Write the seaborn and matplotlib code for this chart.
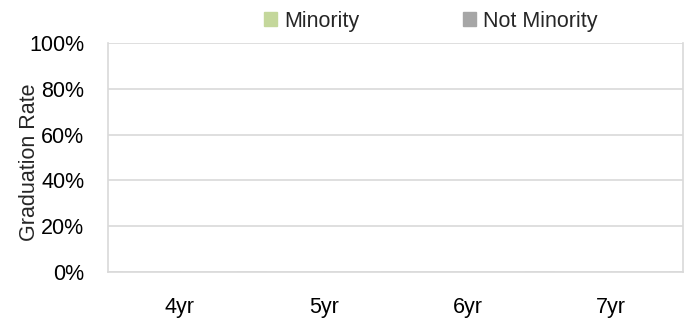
import matplotlib
matplotlib.use("Agg")
import matplotlib.pyplot as plt
import matplotlib.patches as mpatches
from matplotlib.ticker import FixedLocator, PercentFormatter
import seaborn as sns
import pandas as pd

categories = ["4yr", "5yr", "6yr", "7yr"]
minority = [0, 0, 0, 0]
not_minority = [0, 0, 0, 0]
series_names = ["Minority", "Not Minority"]
colors = ["#C4D79B", "#A6A6A6"]

df = pd.DataFrame({
    "Year": categories * 2,
    "Rate": minority + not_minority,
    "Group": [series_names[0]] * 4 + [series_names[1]] * 4,
})

sns.set_style("white")
plt.rcParams["font.family"] = ["Liberation Sans", "DejaVu Sans"]

FS = 15.5
fig = plt.figure(figsize=(6.94, 3.24), dpi=100)
ax = fig.add_axes([108 / 694, 1 - 272 / 324, (683 - 108) / 694, (272 - 43) / 324])

sns.barplot(data=df, x="Year", y="Rate", hue="Group", palette=colors, ax=ax,
            legend=False, errorbar=None)

ax.set_ylim(0, 1)
ax.set_xlim(-0.5, 3.5)
ax.set_yticks([0, 0.2, 0.4, 0.6, 0.8, 1.0])
ax.yaxis.set_major_formatter(PercentFormatter(1.0, decimals=0))
ax.grid(axis="y", color="#D9D9D9", linewidth=1.2)
ax.set_axisbelow(True)
for s in ax.spines.values():
    s.set_color("#D9D9D9")
    s.set_linewidth(1.2)
ax.spines["top"].set_visible(False)

ax.tick_params(axis="y", length=0, pad=17, labelsize=FS, labelcolor="black")
ax.tick_params(axis="x", which="major", length=0, pad=18, labelsize=FS, labelcolor="black")
ax.xaxis.set_minor_locator(FixedLocator([0.5, 1.5, 2.5]))
ax.tick_params(axis="x", which="minor", direction="in", length=7, color="#D9D9D9", width=1.2)

ax.set_xlabel("")
ax.set_ylabel("Graduation Rate", fontsize=FS)
ax.yaxis.set_label_coords(-0.118, 0.48)

handles = [mpatches.Patch(color=c, label=n) for c, n in zip(colors, series_names)]
fig.legend(handles=handles, loc="center", bbox_to_anchor=(431 / 694, 1 - 21 / 324), ncol=2,
           frameon=False, fontsize=FS, handlelength=0.62, handleheight=0.62,
           handletextpad=0.33, columnspacing=4.8, borderpad=0, borderaxespad=0)

fig.savefig("out.png", dpi=100)
